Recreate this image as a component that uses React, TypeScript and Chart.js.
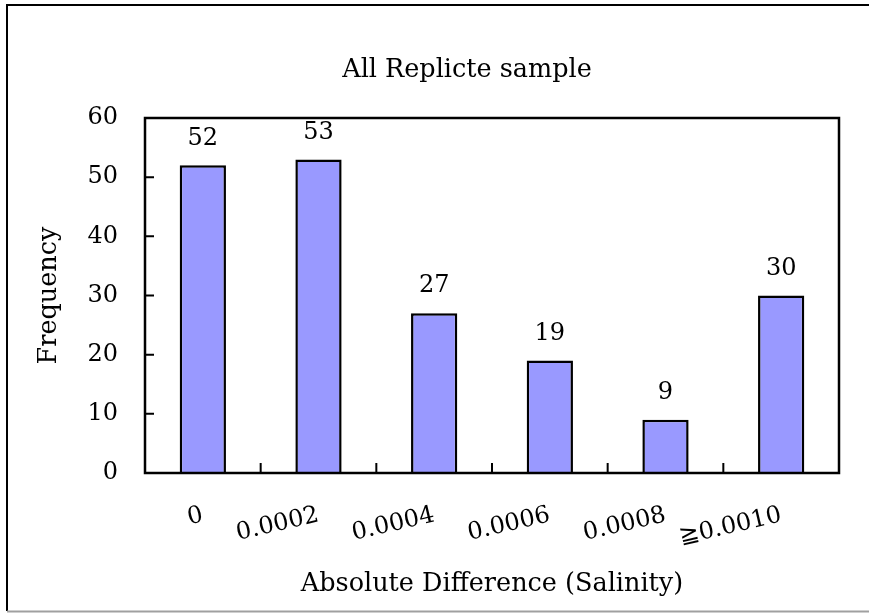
import React, { useEffect, useRef } from "react";
import { Chart, registerables } from "chart.js";

Chart.register(...registerables);

const categories = ["0", "0.0002", "0.0004", "0.0006", "0.0008", "≧0.0010"];
const frequencies = [52, 53, 27, 19, 9, 30];
const yTicks = [0, 10, 20, 30, 40, 50, 60];

const TITLE = "All Replicte sample";
const X_TITLE = "Absolute Difference (Salinity)";
const Y_TITLE = "Frequency";

const FONT = "'DejaVu Serif', serif";
const NUM_SIZE = 24;
const TEXT_SIZE = 25.5;

const decorPlugin = {
  id: "decor",
  beforeDraw(chart: any) {
    const { ctx, width, height } = chart;
    ctx.save();
    ctx.fillStyle = "#ffffff";
    ctx.fillRect(0, 0, width, height);
    ctx.strokeStyle = "#000000";
    ctx.lineWidth = 2;
    ctx.beginPath();
    ctx.moveTo(width, 5);
    ctx.lineTo(7, 5);
    ctx.lineTo(7, 611);
    ctx.stroke();
    ctx.strokeStyle = "#a0a0a0";
    ctx.beginPath();
    ctx.moveTo(7, 611.5);
    ctx.lineTo(width, 611.5);
    ctx.stroke();
    // chart title
    ctx.fillStyle = "#000000";
    ctx.font = `${TEXT_SIZE}px ${FONT}`;
    ctx.textAlign = "center";
    ctx.textBaseline = "middle";
    ctx.fillText(TITLE, 467, 70);
    ctx.restore();
  },
  afterDatasetsDraw(chart: any) {
    const { ctx } = chart;
    const meta = chart.getDatasetMeta(0);
    const data = chart.data.datasets[0].data;
    ctx.save();
    ctx.fillStyle = "#000000";
    ctx.font = `${NUM_SIZE}px ${FONT}`;
    ctx.textAlign = "center";
    ctx.textBaseline = "middle";
    meta.data.forEach((bar: any, i: number) => {
      ctx.fillText(String(data[i]), bar.x, bar.y - 27);
    });
    ctx.restore();
  },
  afterDraw(chart: any) {
    const { ctx, chartArea } = chart;
    const { left, right, top, bottom } = chartArea;
    const x = chart.scales.x;
    const y = chart.scales.y;
    ctx.save();
    ctx.strokeStyle = "#000000";
    ctx.lineWidth = 2.5;
    ctx.strokeRect(left, top, right - left, bottom - top);
    ctx.lineWidth = 2;
    ctx.beginPath();
    y.ticks.forEach((t: any) => {
      const py = y.getPixelForValue(t.value);
      ctx.moveTo(left, py);
      ctx.lineTo(left + 9, py);
    });
    for (let i = 1; i < categories.length; i++) {
      const px = (x.getPixelForValue(i - 1) + x.getPixelForValue(i)) / 2;
      ctx.moveTo(px, bottom);
      ctx.lineTo(px, bottom - 10);
    }
    ctx.stroke();
    ctx.restore();
  },
};

export default function App() {
  const canvasRef = useRef<HTMLCanvasElement | null>(null);

  useEffect(() => {
    const canvas = canvasRef.current;
    if (!canvas) return;
    const chart = new Chart(canvas, {
      type: "bar",
      data: {
        labels: categories,
        datasets: [
          {
            data: frequencies,
            backgroundColor: "#9999ff",
            borderColor: "#000000",
            borderWidth: 2.5,
            barPercentage: 0.4,
            categoryPercentage: 1.0,
          },
        ],
      },
      options: {
        responsive: false,
        animation: false,
        layout: { padding: { left: 0, right: 30, top: 118, bottom: 0 } },
        plugins: {
          legend: { display: false },
          tooltip: { enabled: false },
          title: { display: false },
        },
        scales: {
          x: {
            grid: { display: false, drawTicks: false },
            border: { display: false },
            ticks: {
              color: "#000000",
              font: { family: FONT, size: NUM_SIZE },
              minRotation: 13,
              maxRotation: 13,
              autoSkip: false,
              padding: 28,
            },
            title: {
              display: true,
              text: X_TITLE,
              color: "#000000",
              font: { family: FONT, size: TEXT_SIZE },
              padding: { top: 4, bottom: 13 },
            },
            afterFit: (scale: any) => {
              scale.height = 140;
            },
          },
          y: {
            min: 0,
            max: 60,
            grid: { display: false, drawTicks: false },
            border: { display: false },
            afterBuildTicks: (scale: any) => {
              scale.ticks = yTicks.map((v) => ({ value: v }));
            },
            ticks: {
              color: "#000000",
              font: { family: FONT, size: NUM_SIZE },
              padding: 27,
            },
            title: {
              display: true,
              text: Y_TITLE,
              color: "#000000",
              font: { family: FONT, size: TEXT_SIZE },
              padding: { top: 34, bottom: 0 },
            },
            afterFit: (scale: any) => {
              scale.width = 145;
            },
          },
        },
      },
      plugins: [decorPlugin],
    });
    return () => chart.destroy();
  }, []);

  return (
    <div style={{ position: "fixed", left: 0, top: 0, width: 869, height: 613 }}>
      <canvas ref={canvasRef} width={869} height={613} style={{ display: "block" }} />
    </div>
  );
}
